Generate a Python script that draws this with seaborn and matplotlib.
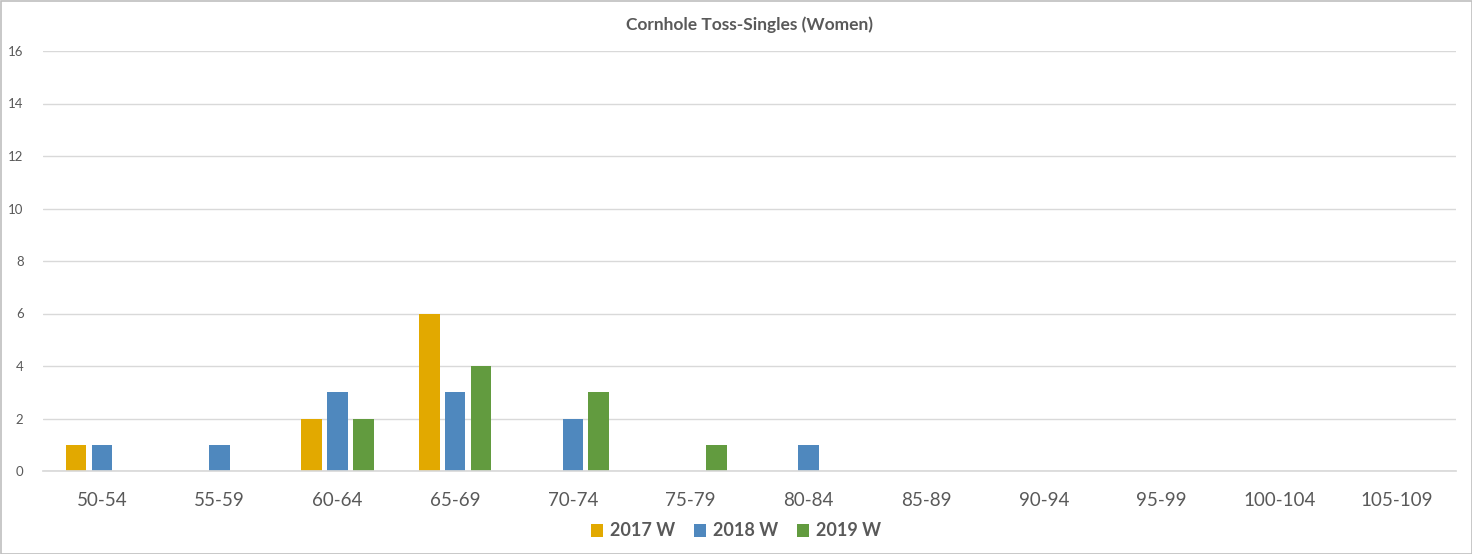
import matplotlib
matplotlib.use("Agg")
import matplotlib.pyplot as plt
import seaborn as sns
import pandas as pd
from matplotlib.patches import Rectangle

categories = ["50-54", "55-59", "60-64", "65-69", "70-74", "75-79", "80-84",
              "85-89", "90-94", "95-99", "100-104", "105-109"]
series_names = ["2017 W", "2018 W", "2019 W"]
v2017 = [1, 0, 2, 6, 0, 0, 0, 0, 0, 0, 0, 0]
v2018 = [1, 1, 3, 3, 2, 0, 1, 0, 0, 0, 0, 0]
v2019 = [0, 0, 2, 4, 3, 1, 0, 0, 0, 0, 0, 0]
colors = ["#E2A900", "#4F88BE", "#629B3F"]
yticks = [0, 2, 4, 6, 8, 10, 12, 14, 16]

rows = []
for name, vals in zip(series_names, [v2017, v2018, v2019]):
    for c, v in zip(categories, vals):
        rows.append({"Age": c, "Series": name, "Count": v})
df = pd.DataFrame(rows)

sns.set_theme(style="white")
plt.rcParams["font.family"] = ["Lato", "DejaVu Sans"]

fig = plt.figure(figsize=(14.72, 5.54), dpi=100)
ax = fig.add_axes([43/1472, 1-471/554, (1456-43)/1472, (471-51)/554])

sns.barplot(data=df, x="Age", y="Count", hue="Series", order=categories,
            hue_order=series_names, palette=colors, width=0.66, gap=0.2,
            ax=ax, legend=True, saturation=1, linewidth=0)

ax.set_ylim(0, 16)
ax.set_xlim(-0.5, len(categories) - 0.5)
ax.set_yticks(yticks)
ax.set_yticklabels([str(t) for t in yticks], fontsize=9.5, color="#595959")
ax.tick_params(axis="x", labelsize=13.5, colors="#595959", length=0, pad=15)
ax.tick_params(axis="y", length=0, pad=14)
ax.yaxis.grid(True, color="#D9D9D9", linewidth=1)
ax.set_axisbelow(True)
for s in ["top", "right", "left"]:
    ax.spines[s].set_visible(False)
ax.spines["bottom"].set_color("#D9D9D9")
ax.set_xlabel("")
ax.set_ylabel("")

ax.set_title("Cornhole Toss-Singles (Women)", fontsize=12.5, fontweight="bold",
             color="#595959", pad=15)

handles, labels = ax.get_legend_handles_labels()
ax.get_legend().remove()
leg = fig.legend(handles, labels, loc="center", bbox_to_anchor=(0.5, 1-531/554),
                 ncol=3, frameon=False, handlelength=0.7, handleheight=0.7,
                 handletextpad=0.4, columnspacing=1.0,
                 prop={"size": 13, "weight": "bold"})
for t in leg.get_texts():
    t.set_color("#595959")

fig.patches.append(Rectangle((0.5/1472, 0.5/554), 1-1/1472, 1-1/554,
                             transform=fig.transFigure, fill=False,
                             edgecolor="#BFBFBF", linewidth=1.2))

fig.savefig("out.png", dpi=100, facecolor="white")
